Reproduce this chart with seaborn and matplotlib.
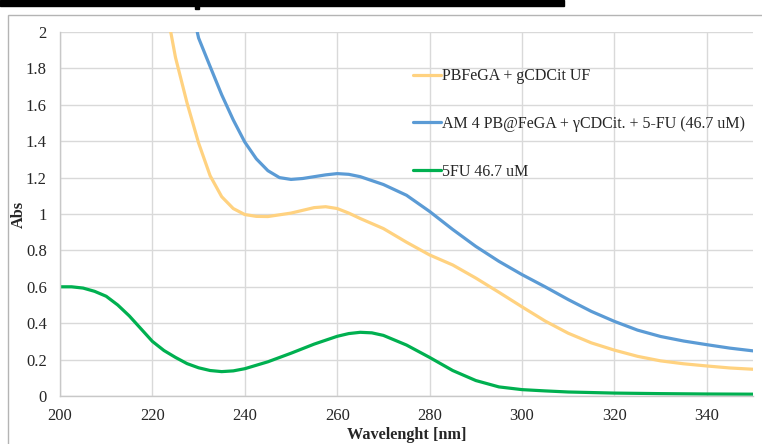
import numpy as np
import pandas as pd
import matplotlib
matplotlib.use("Agg")
import matplotlib.pyplot as plt
import matplotlib.patches as patches
from matplotlib.ticker import FuncFormatter
import seaborn as sns

# spectra (wavelength in nm, absorbance)
wl_pb = [220, 222.5, 225, 227.5, 230, 232.5, 235, 237.5, 240, 242.5, 245, 250, 255, 257.5, 260,
         262.5, 265, 270, 275, 280, 285, 290, 295, 300, 305, 310, 315, 320, 325, 330, 335, 340,
         345, 350]
abs_pb = [2.6, 2.2, 1.86, 1.61, 1.39, 1.21, 1.095, 1.03, 0.997, 0.987, 0.986, 1.005, 1.035, 1.04,
          1.03, 1.005, 0.975, 0.92, 0.845, 0.775, 0.72, 0.648, 0.57, 0.49, 0.412, 0.345, 0.292,
          0.252, 0.218, 0.193, 0.177, 0.165, 0.154, 0.147]

wl_am = [225, 227.5, 230, 232.5, 235, 237.5, 240, 242.5, 245, 247.5, 250, 252.5, 255, 257.5, 260,
         262.5, 265, 270, 275, 280, 285, 290, 295, 300, 305, 310, 315, 320, 325, 330, 335, 340,
         345, 350]
abs_am = [2.6, 2.25, 1.967, 1.81, 1.655, 1.517, 1.395, 1.303, 1.238, 1.2, 1.19, 1.195, 1.205,
          1.215, 1.222, 1.218, 1.205, 1.162, 1.103, 1.014, 0.915, 0.822, 0.74, 0.667, 0.6, 0.53,
          0.465, 0.41, 0.362, 0.327, 0.302, 0.282, 0.263, 0.248]

wl_fu = [200, 202.5, 205, 207.5, 210, 212.5, 215, 217.5, 220, 222.5, 225, 227.5, 230, 232.5, 235,
         237.5, 240, 245, 250, 255, 260, 262.5, 265, 267.5, 270, 275, 280, 285, 290, 295, 300,
         305, 310, 320, 330, 340, 350]
abs_fu = [0.6, 0.6, 0.593, 0.575, 0.548, 0.5, 0.44, 0.37, 0.30, 0.25, 0.212, 0.178, 0.155, 0.14,
          0.134, 0.138, 0.15, 0.188, 0.235, 0.285, 0.328, 0.343, 0.35, 0.347, 0.333, 0.28, 0.212,
          0.14, 0.085, 0.05, 0.035, 0.028, 0.022, 0.016, 0.013, 0.011, 0.01]

labels = ["PBFeGA + gCDCit UF",
          "AM 4 PB@FeGA + \u03b3CDCit. + 5-FU (46.7 uM)",
          "5FU 46.7 uM"]
colors = ["#FFD280", "#5B9BD5", "#00B050"]

x_ticks = [200, 220, 240, 260, 280, 300, 320, 340]
y_ticks = [0, 0.2, 0.4, 0.6, 0.8, 1, 1.2, 1.4, 1.6, 1.8, 2]

sns.set_theme(style="white")
plt.rcParams['font.family'] = ['Liberation Serif', 'DejaVu Serif']

fig = plt.figure(figsize=(7.62, 4.44), dpi=100)
ax = fig.add_axes([60 / 762, 1 - 396 / 444, 693 / 762, 364 / 444])

series = [(wl_pb, abs_pb), (wl_am, abs_am), (wl_fu, abs_fu)]
for (wl, ab), lab, col in zip(series, labels, colors):
    sns.lineplot(x=wl, y=ab, ax=ax, color=col, linewidth=2.3, label=lab, sort=False)

ax.set_xlim(200, 350)
ax.set_ylim(0, 2)
ax.set_xticks(x_ticks)
ax.set_yticks(y_ticks)
ax.yaxis.set_major_formatter(FuncFormatter(lambda v, p: f"{v:g}"))
ax.grid(True, color="#d9d9d9", linewidth=1)
ax.set_axisbelow(True)
for s in ["top", "right"]:
    ax.spines[s].set_visible(False)
for s in ["left", "bottom"]:
    ax.spines[s].set_color("#c8c8c8")
    ax.spines[s].set_linewidth(1)
ax.tick_params(axis="y", length=0, pad=9.5, labelsize=12)
ax.tick_params(axis="x", length=0, pad=8.5, labelsize=12)
for t in ax.get_xticklabels() + ax.get_yticklabels():
    t.set_color("#262626")

ax.set_xlabel("Wavelenght [nm]", fontsize=11.7, fontweight="bold", color="#262626")
ax.set_ylabel("Abs", fontsize=11.7, fontweight="bold", color="#262626")
ax.xaxis.set_label_coords(0.5, (396 - 427) / 364)
ax.yaxis.set_label_coords((27 - 60) / 693, 0.5)

leg = ax.legend(loc="upper left", bbox_to_anchor=(0.509, 0.9), frameon=False,
                fontsize=11.5, handlelength=1.8, handletextpad=0.05, labelspacing=1.98,
                borderpad=0, borderaxespad=0)
for t in leg.get_texts():
    t.set_color("#262626")

# outer chart border and the cropped black bar at the top
fig.patches.append(patches.Rectangle((8 / 762, -0.1), 1.0, 1 - 15 / 444 + 0.1,
                                     transform=fig.transFigure, fill=False,
                                     edgecolor="#b4b4b4", linewidth=1))
fig.patches.append(patches.Rectangle((0, 1 - 6.5 / 444), 564 / 762, 6.5 / 444,
                                     transform=fig.transFigure, color="black"))
fig.patches.append(patches.Rectangle((195 / 762, 1 - 9 / 444), 4 / 762, 3 / 444,
                                     transform=fig.transFigure, color="black"))

fig.savefig("out.png", dpi=100)
